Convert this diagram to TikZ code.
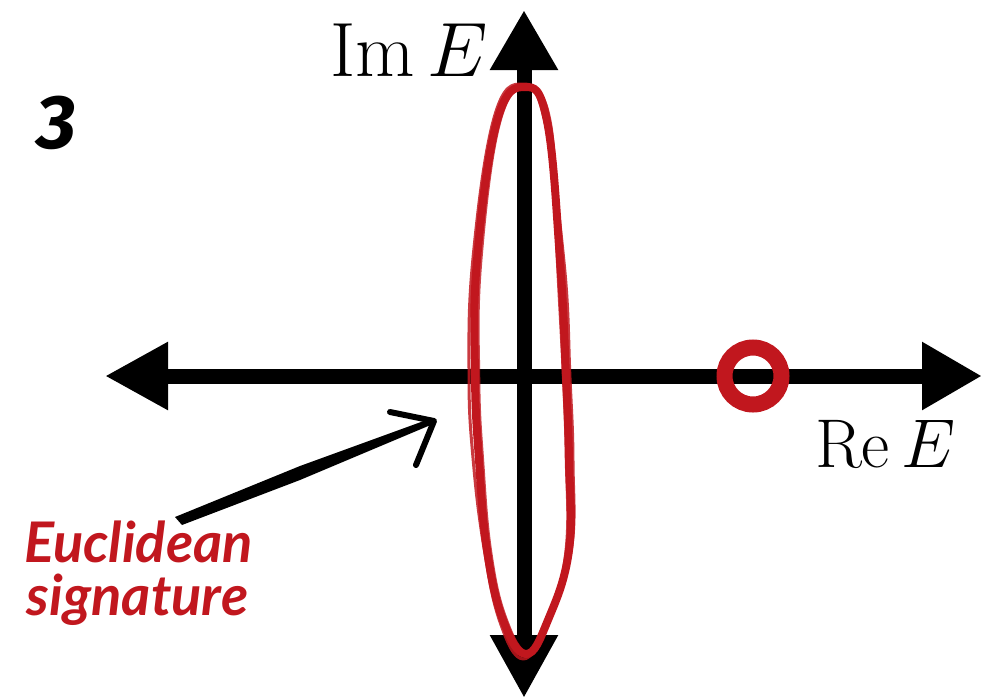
\RequirePackage{fix-cm}
\documentclass[tikz,border=0pt]{standalone}
\usepackage{fontspec}
\usetikzlibrary{arrows.meta}
\newfontfamily\eucfont{Lato}
\newfontfamily\digfont{Fira Sans}
\definecolor{redE}{RGB}{193,23,30}
\tikzset{
  axis/.style={line width=15pt, {Triangle[length=63pt,width=64pt]}-{Triangle[length=60pt,width=64pt]}},
  ring/.style={draw=redE, line width=16pt},
  sketch/.style={draw=redE, line cap=round, line join=round},
  lbl/.style={anchor=base west, inner sep=0pt, outer sep=0pt},
  redlbl/.style={lbl, text=redE, font=\eucfont\bfseries\itshape\fontsize{56}{60}\selectfont},
}
\begin{document}
\begin{tikzpicture}[x=1pt,y=-1pt]
\useasboundingbox (0,0) rectangle (982,699);
% axes
\coordinate (xl) at (105,376);
\coordinate (xr) at (982,376);
\coordinate (yt) at (524,10);
\coordinate (yb) at (524,698);
\draw[axis] (xl) -- (xr);
\draw[axis] (yb) -- (yt);
% sketchy red ellipse
\draw[sketch, line width=8pt] plot[smooth cycle, tension=0.7] coordinates {
 (525,87) (547,121) (560,260) (566,376) (569,460) (569,550) (548,620) (526,654)
 (503,620) (487,550) (479,460) (475,376) (477,260) (497,121)};
\draw[sketch, line width=3pt, opacity=0.85] plot[smooth cycle, tension=0.7] coordinates {
 (522,84) (544,118) (564,262) (570,378) (573,462) (571,552) (546,624) (523,659)
 (500,622) (484,548) (473,458) (469,374) (473,258) (494,118)};
\draw[sketch, line width=2.5pt, opacity=0.8] plot[smooth cycle, tension=0.7] coordinates {
 (528,88) (551,125) (557,258) (563,374) (566,458) (566,548) (550,618) (528,652)
 (506,618) (491,552) (483,462) (479,378) (481,262) (500,122)};
% red ring
\draw[ring] (753,376) circle (28.5pt);
% labels
\node[lbl, font=\fontsize{77}{84}\selectfont] (im) at (330,76) {$\mathrm{Im}\,E$};
\node[lbl, font=\fontsize{69}{76}\selectfont] (re) at (815,467) {$\mathrm{Re}\,E$};
\node[lbl, font=\digfont\bfseries\fontsize{76}{80}\selectfont, xslant=0.12] (three) at (34,148) {3};
\node[redlbl] (euc) at (24,562) {Euclidean};
\node[redlbl] (sig) at (27,615) {signature};
% hand-drawn arrow
\coordinate (tail) at (178,518);
\coordinate (tip) at (434,421);
\fill (175,517) -- (300,466) -- (432,418) -- (433,424) -- (300,480) -- (182,525) -- cycle;
\draw[line width=6pt, line cap=round, line join=round] (390,412) -- (tip) -- (416,465);
\end{tikzpicture}
\end{document}
